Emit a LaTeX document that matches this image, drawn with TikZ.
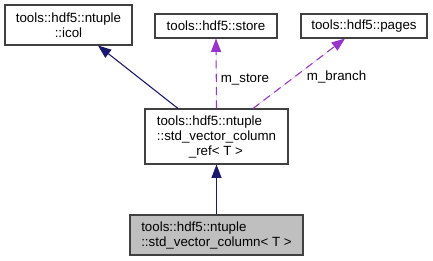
\documentclass[tikz,border=0pt]{standalone}
\usepackage{fontspec}
\setmainfont{Liberation Sans}
\usetikzlibrary{positioning, arrows.meta}
\definecolor{edgeblue}{HTML}{191970}
\definecolor{edgepurple}{HTML}{9A32CD}
\definecolor{boxgray}{HTML}{BFBFBF}

\begin{document}
\begin{tikzpicture}[
        x=0.75pt, y=-0.75pt,
        font=\fontsize{10}{11.25}\selectfont,
        block/.style={
            rectangle,
            draw=black!75,
            line width=0.8pt,
            align=center,
            inner sep=0pt
        },
        inherit/.style={
            -{Triangle[length=10pt, width=7.5pt]},
            draw=edgeblue,
            fill=edgeblue,
            line width=0.8pt
        },
        usage/.style={
            -{Triangle[length=10pt, width=7.5pt]},
            draw=edgepurple,
            fill=edgepurple,
            line width=0.8pt,
            dash pattern=on 6pt off 4pt
        },
        elabel/.style={
            inner sep=0pt
        }
    ]
        \useasboundingbox (0,0) rectangle (433,261);

        \node[block, minimum width=95.25pt, minimum height=30pt] (icol) at (68.5,25)
            {tools::hdf5::ntuple\\::icol};
        \node[block, minimum width=91.5pt, minimum height=18pt] (store) at (216,26)
            {tools::hdf5::store};
        \node[block, minimum width=94.5pt, minimum height=18pt] (pages) at (364,26)
            {tools::hdf5::pages};
        \node[block, minimum width=107.25pt, minimum height=41.25pt, align=left] (colref) at (216.5,136.5)
            {tools::hdf5::ntuple\\::std\_vector\_column\\\hspace*{2.4em}\_ref< T >};
        \node[block, fill=boxgray, minimum width=129.75pt, minimum height=30pt, align=left] (col) at (216.5,235)
            {tools::hdf5::ntuple\\::std\_vector\_column< T >};

        \draw[inherit] ([xshift=-28.9pt]colref.north) -- ([xshift=22.1pt]icol.south);
        \draw[usage] (colref.north) -- (store.south)
            node[elabel, right=3pt, pos=0.42] {m\_store};
        \draw[usage] ([xshift=27.4pt]colref.north) -- ([xshift=-14.25pt]pages.south)
            node[elabel, right=9pt, pos=0.45] {m\_branch};
        \draw[inherit] (col) -- (colref);

    \end{tikzpicture}
\end{document}
